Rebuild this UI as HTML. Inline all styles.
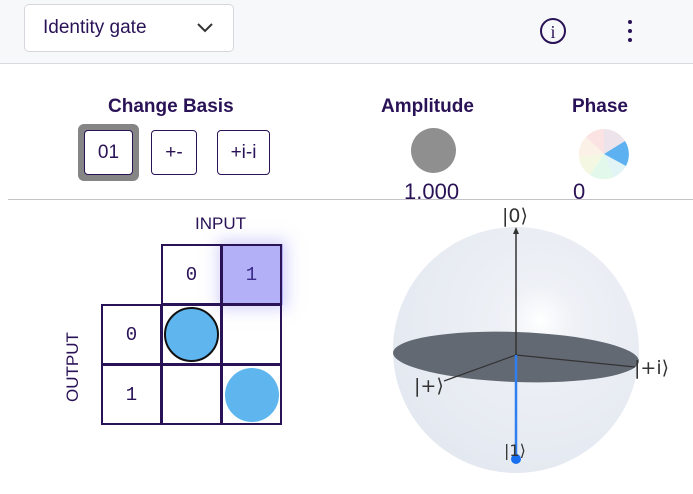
<!DOCTYPE html>
<html><head><style>
body{margin:0;width:693px;height:494px;background:#fff;font-family:"Liberation Sans",sans-serif;position:relative;overflow:hidden;color:#2a1257}
.a{position:absolute}
.btn{position:absolute;border:1px solid #2a1257;border-radius:4px;background:#fff;font-size:19px;text-align:center;box-sizing:border-box}
.c{position:absolute;width:61px;height:61px;border:2px solid #2a1257;box-sizing:border-box;font-family:"Liberation Mono",monospace;font-size:19px;display:flex;align-items:center;justify-content:center}
</style></head><body>
<div class="a" style="left:0;top:0;width:693px;height:63px;background:#f7f8fa;border-bottom:1px solid #d9d9de"></div>
<div class="a" style="left:24px;top:4px;width:210px;height:48px;background:#fff;border:1px solid #d6d6dc;border-radius:5px;box-sizing:border-box"></div>
<div class="a" style="left:43px;top:17px;font-size:19px">Identity gate</div>
<svg class="a" style="left:195px;top:21px" width="20" height="14"><path d="M3 3 L10 10 L17 3" stroke="#333" stroke-width="2" fill="none"/></svg>
<svg class="a" style="left:539px;top:17px" width="28" height="28"><circle cx="14" cy="14" r="12" stroke="#2a1257" stroke-width="2" fill="none"/><text x="14" y="21" text-anchor="middle" font-size="18" fill="#2a1257" font-family="Liberation Serif">i</text></svg>
<div class="a" style="left:628px;top:20px;width:4px;height:4px;border-radius:2px;background:#2a1257;box-shadow:0 9px 0 #2a1257,0 18px 0 #2a1257"></div>
<div class="a" style="left:108px;top:96px;font-size:19px;font-weight:bold">Change Basis</div>
<div class="a" style="left:381px;top:96px;font-size:19px;font-weight:bold">Amplitude</div>
<div class="a" style="left:572px;top:96px;font-size:19px;font-weight:bold">Phase</div>
<div class="a" style="left:78px;top:124px;width:61px;height:57px;background:#858585;border-radius:6px"></div>
<div class="btn" style="left:84px;top:130px;width:49px;height:45px;line-height:43px">01</div>
<div class="btn" style="left:151px;top:130px;width:46px;height:45px;line-height:43px">+-</div>
<div class="btn" style="left:217px;top:130px;width:53px;height:45px;line-height:43px">+i-i</div>
<div class="a" style="left:411px;top:128px;width:45px;height:45px;border-radius:50%;background:#8f8f8f"></div>
<svg class="a" style="left:578px;top:128px" width="52" height="52"><g transform="translate(26,26)">
<path d="M0 0 L0 -25 A25 25 0 0 1 21 -13Z" fill="#ece4ea"/><path d="M0 0 L0 -25 A25 25 0 0 0 -18 -17Z" fill="#fbe3e3"/>
<path d="M0 0 L-18 -17 A25 25 0 0 0 -25 3Z" fill="#fbf1e6"/><path d="M0 0 L-25 3 A25 25 0 0 0 -14 21Z" fill="#f4f8e2"/>
<path d="M0 0 L-14 21 A25 25 0 0 0 10 23Z" fill="#e2f8ea"/><path d="M0 0 L10 23 A25 25 0 0 0 22 12Z" fill="#e2f4f5"/>
<path d="M0 0 L21 -13 A25 25 0 0 1 22 12Z" fill="#5eb1f0"/></g></svg>
<div class="a" style="left:404px;top:179px;font-size:22px">1.000</div>
<div class="a" style="left:573px;top:179px;font-size:22px">0</div>
<div class="a" style="left:8px;top:199px;width:685px;height:1px;background:#c4c4c8"></div>
<div class="a" style="left:195px;top:214px;font-size:17px">INPUT</div>
<div class="a" style="font-size:17px;transform:rotate(-90deg);transform-origin:0 0;left:63px;top:402px">OUTPUT</div>
<div class="a" style="left:222px;top:244px;width:61px;height:61px;background:#b3b0f7;box-shadow:0 0 14px 4px rgba(170,165,245,.5)"></div>
<div class="c" style="left:161px;top:244px">0</div>
<div class="c" style="left:221px;top:244px;color:#3a2a8a">1</div>
<div class="c" style="left:101px;top:304px">0</div>
<div class="c" style="left:161px;top:304px"></div>
<div class="c" style="left:221px;top:304px"></div>
<div class="c" style="left:101px;top:364px">1</div>
<div class="c" style="left:161px;top:364px"></div>
<div class="c" style="left:221px;top:364px"></div>
<div class="a" style="left:164px;top:307px;width:51px;height:51px;border-radius:50%;background:#5fb6ee;border:2px solid #111"></div>
<div class="a" style="left:225px;top:368px;width:54px;height:54px;border-radius:50%;background:#5fb6ee"></div>
<svg class="a" style="left:380px;top:200px" width="313" height="294">
<defs><radialGradient id="g" cx="0.6" cy="0.38" r="0.7"><stop offset="0" stop-color="#fff"/><stop offset="0.2" stop-color="#eef1f6"/><stop offset="1" stop-color="#e3e8f0"/></radialGradient></defs>
<circle cx="136" cy="150" r="123" fill="url(#g)"/>
<ellipse cx="136" cy="157" rx="123" ry="25" fill="#636973" transform="rotate(2 136 157)"/>
<line x1="136" y1="155" x2="136" y2="30" stroke="#333" stroke-width="1.5"/>
<path d="M133 34 L136 27 L139 34Z" fill="#333"/>
<line x1="136" y1="155" x2="255" y2="167" stroke="#333" stroke-width="1.2"/>
<line x1="136" y1="155" x2="64" y2="181" stroke="#333" stroke-width="1.2"/>
<line x1="136" y1="155" x2="136" y2="259" stroke="#2f7ff0" stroke-width="2.5"/>
<circle cx="136" cy="259" r="5" fill="#1a6ff0"/>
<g font-size="19" fill="#333" font-family="DejaVu Sans,sans-serif">
<text x="122" y="22">|0⟩</text><text x="254" y="174">|+i⟩</text><text x="34" y="192">|+⟩</text><text x="124" y="256" font-size="16">|1⟩</text></g>
</svg>
</body></html>
